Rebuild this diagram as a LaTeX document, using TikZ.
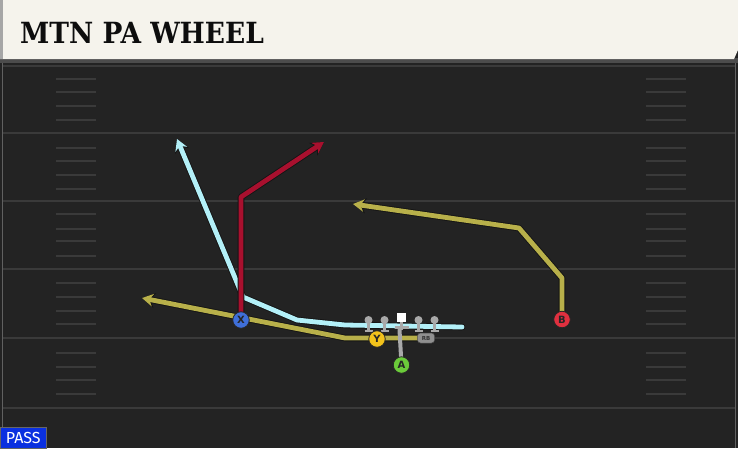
\documentclass[tikz,border=0pt]{standalone}
\usepackage{fontspec}
\usetikzlibrary{arrows.meta}
\newfontfamily\titlefont{DejaVu Serif}
\newfontfamily\passfont{Fira Sans}
\newfontfamily\plfont{DejaVu Sans}
\definecolor{field}{HTML}{232323}
\definecolor{fline}{HTML}{3A3A3A}
\definecolor{hdr}{HTML}{F5F3EC}
\definecolor{rcyan}{HTML}{B3F0F8}
\definecolor{rred}{HTML}{A8102E}
\definecolor{rolive}{HTML}{B8B04A}
\definecolor{pblue}{HTML}{3F6FD9}
\definecolor{pyellow}{HTML}{F2C21B}
\definecolor{pgreen}{HTML}{6BCB3A}
\definecolor{pred}{HTML}{E0303F}
\definecolor{olgray}{HTML}{A9A9A9}
\definecolor{passblue}{HTML}{0A30E0}
\pgfdeclarelayer{bg}
\pgfdeclarelayer{rt}
\pgfsetlayers{bg,rt,main}
\begin{document}
\begin{tikzpicture}[x=1pt,y=-1pt,
  player/.style={circle,draw=black!85,line width=0.8pt,minimum size=16.5pt,inner sep=0pt,
    font=\plfont\bfseries\fontsize{10}{10}\selectfont,text=black!85},
  lineman/.style={circle,fill=olgray,minimum size=8pt,inner sep=0pt},
  ctrbox/.style={rectangle,fill=white,minimum size=9pt,inner sep=0pt},
  rbtag/.style={rectangle,rounded corners=3pt,fill=olgray!85!black,draw=black!70,line width=0.5pt,
    minimum width=17pt,minimum height=10pt,inner sep=0pt,
    font=\plfont\bfseries\fontsize{5.5}{5.5}\selectfont,text=black!80},
  outline/.style={draw=black!92,line width=6.6pt,line join=round,line cap=round},
  routeline/.style={line width=4.8pt,line join=round,line cap=round},
  tipo/.style={-{Stealth[length=13pt,width=15pt,inset=4.5pt]}},
  tipi/.style={-{Stealth[length=11pt,width=12.5pt,inset=3.5pt]}},
  yardline/.style={draw=fline,line width=2pt},
  hashmark/.style={draw=fline,line width=1.5pt},
  block/.style={draw=olgray,line width=2.4pt},
]
\useasboundingbox (0,0) rectangle (738,448);
\begin{pgfonlayer}{bg}
% field
\fill[field] (0,0) rectangle (738,448);
\fill[black!70] (0,58) rectangle (738,63);
% yard lines
\foreach \yy in {66,133,201,269,338,408} \draw[yardline] (3,\yy) -- (735,\yy);
% hash marks
\foreach \yy in {79,92,106,120,148,161,175,189,214,229,241,256,283,297,311,324,353,367,380,394}{
  \draw[hashmark] (56,\yy) -- (96,\yy);
  \draw[hashmark] (646,\yy) -- (686,\yy);
}
\draw[fline!80,line width=1pt] (2,63) -- (2,448);
\draw[fline!80,line width=1pt] (735.5,63) -- (735.5,448);
% header
\fill[hdr] (0,0) -- (738,0) -- (738,50) -- (734,59) -- (0,59) -- cycle;
\fill[black!35] (0,0) rectangle (3,59);
\end{pgfonlayer}
\node[anchor=base west,inner sep=0pt,font=\titlefont\bfseries\fontsize{27}{27}\selectfont,text=black!95] (title) at (20,43.5) {\scalebox{0.98}[1.08]{MTN PA WHEEL}};
% pass tag
\node[anchor=south west,fill=passblue,draw=black!60,line width=0.6pt,minimum width=46pt,minimum height=21pt,inner sep=0pt,
  font=\passfont\fontsize{16}{16}\selectfont,text=white] (pass) at (0,448.5) {PASS};

% players
\node[player,fill=pblue] (X) at (241,320) {X};
\node[player,fill=pyellow] (Y) at (377,339) {Y};
\node[player,fill=pgreen] (A) at (401.5,365) {A};
\node[player,fill=pred] (B) at (562,319.5) {B};
\node[rbtag] (RB) at (426,338) {RB};
\node[ctrbox] (C) at (401.5,317.5) {};
\node[lineman] (LT) at (368.5,320) {};
\node[lineman] (LG) at (384.5,320) {};
\node[lineman] (RG) at (418.5,320) {};
\node[lineman] (RT) at (434.5,320) {};

% route coordinates
\coordinate (cS) at (462,327);
\coordinate (c1) at (345,325);
\coordinate (c2) at (297,320);
\coordinate (c3) at (243,297);
\coordinate (cT) at (177,139);
\coordinate (r1) at (241,197);
\coordinate (rT) at (324,142);
\coordinate (o1) at (345,338);
\coordinate (oT) at (142,298);
\coordinate (b1) at (562,278);
\coordinate (b2) at (519,228);
\coordinate (bT) at (353,204);

\begin{pgfonlayer}{rt}
  % RB wheel (olive)
  \draw[outline,tipo] (RB.center) -- (o1) -- (oT);
  \draw[routeline,rolive,tipi] (RB.center) -- (o1) -- (oT);
  % motion route (cyan)
  \draw[outline,tipo] (cS) -- (c1) -- (c2) -- (c3) -- (cT);
  \draw[routeline,rcyan,tipi] (cS) -- (c1) -- (c2) -- (c3) -- (cT);
  % X route (red)
  \draw[outline,tipo] (X.center) -- (r1) -- (rT);
  \draw[routeline,rred,tipi] (X.center) -- (r1) -- (rT);
  % B route (olive)
  \draw[outline,tipo] (B.center) -- (b1) -- (b2) -- (bT);
  \draw[routeline,rolive,tipi] (B.center) -- (b1) -- (b2) -- (bT);
  % blocks
  \foreach \n in {LT,LG,RG,RT}{
    \draw[block] (\n.center) -- ++(0,11) ++(-4,0) -- ++(8,0);
  }
  \draw[block] (C.center) -- ++(0,12) ++(-7,-2) -- ++(14,0);
  \draw[draw=olgray,line width=4pt,line cap=round] (399.5,330) -- (A.center);
\end{pgfonlayer}
\end{tikzpicture}
\end{document}
